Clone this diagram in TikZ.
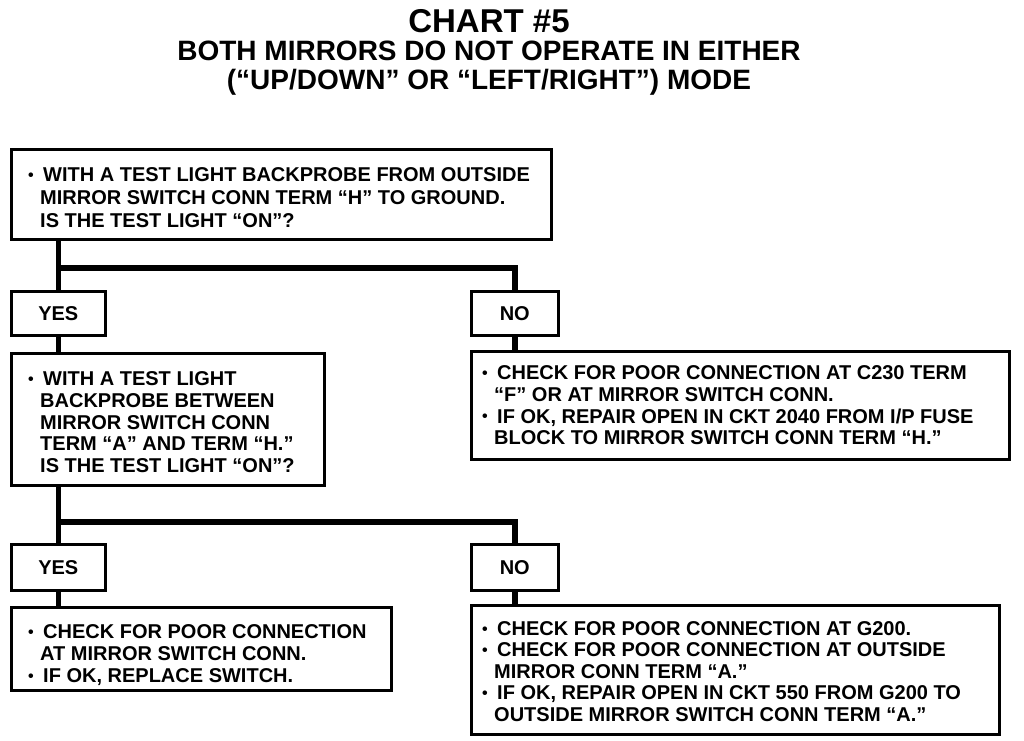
\documentclass[tikz,border=0pt]{standalone}
\usepackage{fontspec}
\usepackage{graphicx}
\setmainfont{Liberation Sans}
\newcommand{\bul}{\makebox[15pt][l]{\raisebox{0.1ex}{\scalebox{0.8}{\textbullet}}}}
\newcommand{\ind}{\hspace*{12pt}}
\tikzset{
  box/.style={draw=black, line width=2.6pt, fill=white, inner sep=0pt, anchor=north west},
  lbl/.style={font=\bfseries\fontsize{20}{22}\selectfont},
  txt/.style={font=\bfseries\fontsize{20}{22}\selectfont, align=left, inner sep=0pt, anchor=west},
  conn/.style={line width=5.5pt, line join=miter},
}
\begin{document}
\begin{tikzpicture}[x=1pt,y=-1pt]
\useasboundingbox (0,0) rectangle (1024,740);
% title
\node[font=\bfseries\fontsize{33}{33}\selectfont, anchor=base] (title) at (489,32) {CHART \#5};
\node[font=\bfseries\fontsize{28}{29}\selectfont, align=center, anchor=north] (sub) at (489,37)
  {BOTH MIRRORS DO NOT OPERATE IN EITHER\\(“UP/DOWN” OR “LEFT/RIGHT”) MODE};
% coordinates of junction lines
\coordinate (j1) at (58,268);
\coordinate (j2) at (58,522);
% boxes
\node[box, minimum width=540pt, minimum height=90pt] (b1) at (10,148) {};
\node[box, minimum width=94pt, minimum height=44pt] (yes1) at (10,290) {};
\node[box, minimum width=87pt, minimum height=44pt] (no1) at (470,290) {};
\node[box, minimum width=313pt, minimum height=132pt] (b2) at (10,352) {};
\node[box, minimum width=538pt, minimum height=108pt] (b3) at (470,350) {};
\node[box, minimum width=94pt, minimum height=46pt] (yes2) at (10,543) {};
\node[box, minimum width=87pt, minimum height=46pt] (no2) at (470,543) {};
\node[box, minimum width=380pt, minimum height=83pt] (b4) at (10,606) {};
\node[box, minimum width=528pt, minimum height=129pt] (b5) at (470,604) {};
% connectors
\draw[conn] (b1.south -| yes1.north) -- (yes1.north);
\draw[conn] (j1 -| yes1.north) -- (j1 -| no1.north) -- (no1.north);
\draw[conn] (yes1.south) -- (yes1.south |- b2.north);
\draw[conn] (no1.south) -- (no1.south |- b3.north);
\draw[conn] (b2.south -| yes2.north) -- (yes2.north);
\draw[conn] (j2 -| yes2.north) -- (j2 -| no2.north) -- (no2.north);
\draw[conn] (yes2.south) -- (yes2.south |- b4.north);
\draw[conn] (no2.south) -- (no2.south |- b5.north);
% texts
\node[lbl] (ly1) at (yes1.center) {YES};
\node[lbl] (ln1) at (no1.center) {NO};
\node[lbl] (ly2) at (yes2.center) {YES};
\node[lbl] (ln2) at (no2.center) {NO};
\node[txt, font=\bfseries\fontsize{20}{23}\selectfont] (t1) at ([xshift=18pt,yshift=-3.5pt]b1.west)
  {\bul WITH A TEST LIGHT BACKPROBE FROM OUTSIDE\\
   \ind MIRROR SWITCH CONN TERM “H” TO GROUND.\\
   \ind IS THE TEST LIGHT “ON”?};
\node[txt, font=\bfseries\fontsize{20}{21.6}\selectfont] (t2) at ([xshift=18pt,yshift=-3pt]b2.west)
  {\bul WITH A TEST LIGHT\\
   \ind BACKPROBE BETWEEN\\
   \ind MIRROR SWITCH CONN\\
   \ind TERM “A” AND TERM “H.”\\
   \ind IS THE TEST LIGHT “ON”?};
\node[txt, font=\bfseries\fontsize{20}{21.7}\selectfont] (t3) at ([xshift=12pt]b3.west)
  {\bul CHECK FOR POOR CONNECTION AT C230 TERM\\
   \ind “F” OR AT MIRROR SWITCH CONN.\\
   \bul IF OK, REPAIR OPEN IN CKT 2040 FROM I/P FUSE\\
   \ind BLOCK TO MIRROR SWITCH CONN TERM “H.”};
\node[txt] (t4) at ([xshift=18pt,yshift=-6.5pt]b4.west)
  {\bul CHECK FOR POOR CONNECTION\\
   \ind AT MIRROR SWITCH CONN.\\
   \bul IF OK, REPLACE SWITCH.};
\node[txt, font=\bfseries\fontsize{20}{21.5}\selectfont] (t5) at ([xshift=12pt,yshift=-1.5pt]b5.west)
  {\bul CHECK FOR POOR CONNECTION AT G200.\\
   \bul CHECK FOR POOR CONNECTION AT OUTSIDE\\
   \ind MIRROR CONN TERM “A.”\\
   \bul IF OK, REPAIR OPEN IN CKT 550 FROM G200 TO\\
   \ind OUTSIDE MIRROR SWITCH CONN TERM “A.”};
\end{tikzpicture}
\end{document}
